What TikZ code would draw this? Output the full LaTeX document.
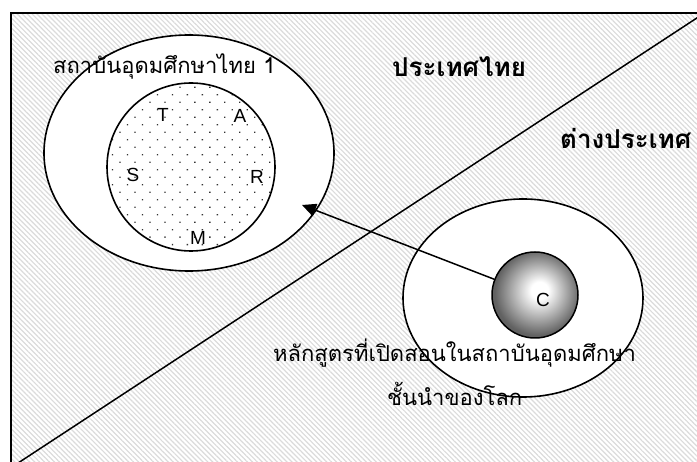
\documentclass[tikz,border=0pt]{standalone}
\usepackage{fontspec}
\setmainfont{Liberation Sans}
\newfontfamily\thai[Script=Thai]{Loma}
\usetikzlibrary{arrows.meta,patterns.meta,shapes.geometric}
\pgfdeclareradialshading{cball}{\pgfpoint{3bp}{3bp}}{color(0bp)=(white); color(5bp)=(white); color(25bp)=(black!62); color(50bp)=(black!62)}
\begin{document}
\begin{tikzpicture}[x=1pt,y=-1pt,
  frame/.style={draw, line width=1.8pt},
  ring/.style={draw, line width=1.6pt, fill=white, inner sep=0pt, outer sep=0pt},
  letter/.style={font=\fontsize{19}{19}\selectfont, inner sep=0pt},
  thailab/.style={font=\thai\fontsize{22}{24}\selectfont, inner sep=0pt, anchor=base west},
  thaibold/.style={font=\thai\bfseries\fontsize{26}{28}\selectfont, inner sep=0pt, anchor=base west},
  link/.style={line width=1.5pt, -{Triangle[length=14pt,width=13pt]}},
  divider/.style={line width=1.5pt}]
\useasboundingbox (0,0) rectangle (697,462);
\clip (0,0) rectangle (697,462);
% background
\fill[white] (0,0) rectangle (697,462);
\fill[pattern={Lines[angle=-45,distance=3.5pt,line width=1.2pt]}, pattern color=black!14] (11,13) rectangle (720,480);
\draw[frame] (11,13) rectangle (720,480);
% divider line
\coordinate (d1) at (12,467);
\coordinate (d2) at (706,12);
\draw[divider] (d1) -- (d2);
% left institution
\node[ring, ellipse, minimum width=290pt, minimum height=236pt] (thai1) at (189,153) {};
\node[ring, circle, fill=none, minimum size=168pt, pattern={Dots[distance=10.6pt,angle=45,radius=0.9pt]}, pattern color=black!80] (core) at (191,167) {};
\node[thailab] (lthai) at (53,74) {สถาบันอุดมศึกษาไทย 1};
\node[letter] (T) at (163,115) {T};
\node[letter] (A) at (240,116) {A};
\node[letter] (S) at (133,175) {S};
\node[letter] (R) at (257,177) {R};
\node[letter] (M) at (198,238) {M};
% region labels
\node[thaibold] (th) at (392,77) {ประเทศไทย};
\node[thaibold] (ab) at (560,149) {ต่างประเทศ};
% right world-class
\node[ring, ellipse, minimum width=240pt, minimum height=198pt] (world) at (523,298) {};
\node[draw, circle, line width=1.5pt, minimum size=86pt, inner sep=0pt, shade, shading=cball] (C) at (535,295) {};
\node[letter] (Clab) at (543,300) {C};
\node[thailab] (w1) at (273,362) {หลักสูตรที่เปิดสอนในสถาบันอุดมศึกษา};
\node[thailab] (w2) at (387,406) {ชั้นนำของโลก};
% arrow
\coordinate (tip) at (302,205);
\draw[link] (C) -- (tip);
\end{tikzpicture}
\end{document}
